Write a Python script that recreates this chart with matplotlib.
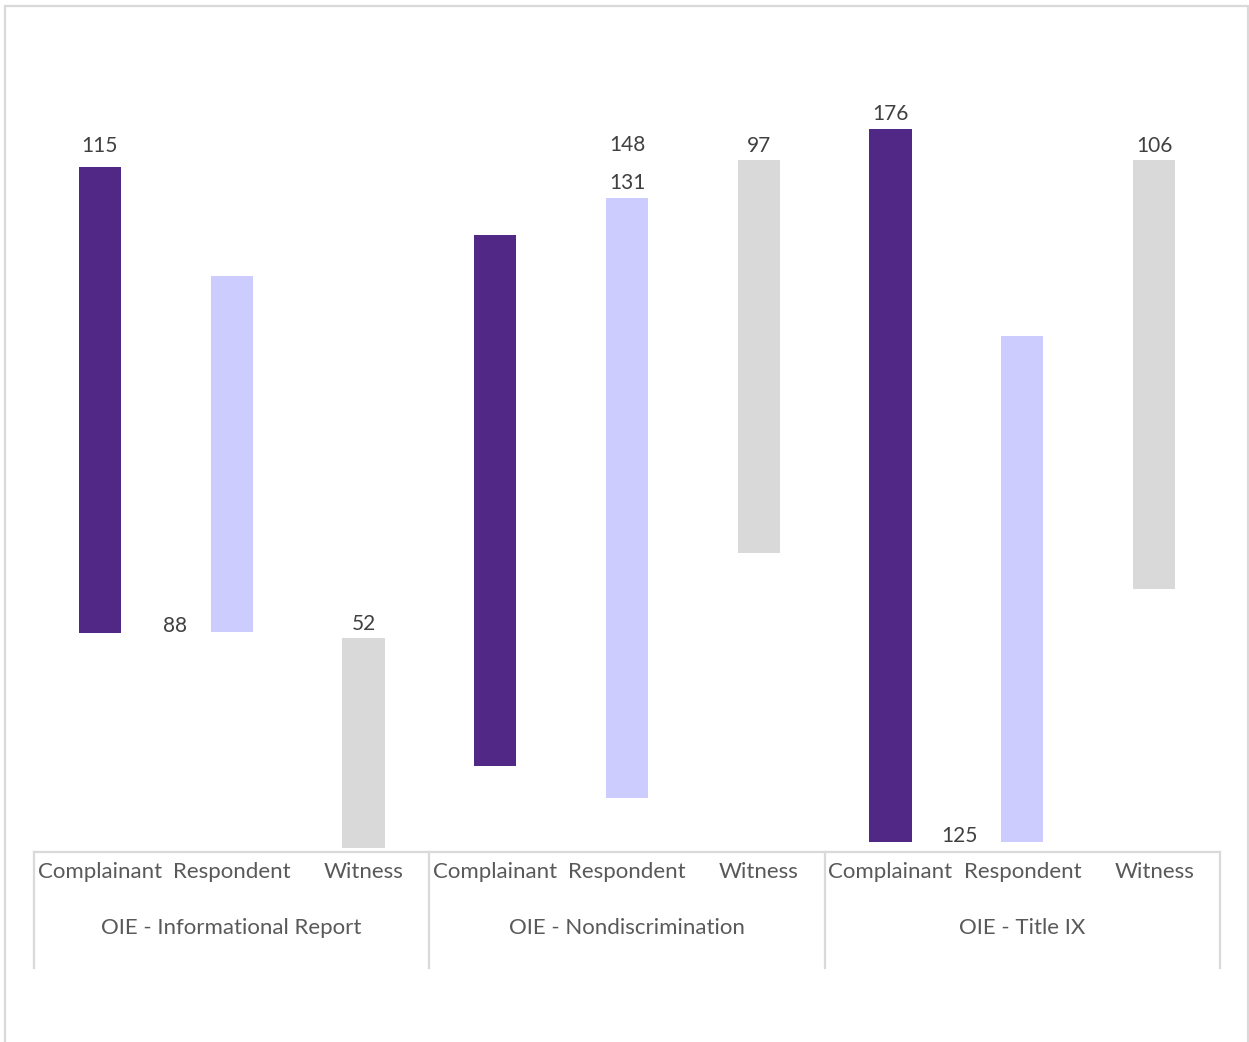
import matplotlib
matplotlib.use("Agg")
import matplotlib.pyplot as plt
from matplotlib.patches import Rectangle
from matplotlib.lines import Line2D

plt.rcParams['font.family'] = ['Lato', 'DejaVu Sans']

# categories
groups = ["OIE - Informational Report", "OIE - Nondiscrimination", "OIE - Title IX"]
roles = ["Complainant", "Respondent", "Witness"]

# floating bar ends, one per (group, role) slot
bar_low = [53.8, 54.0, 0.0, 20.5, 12.5, 73.8, 1.5, 1.5, 64.8]
bar_high = [170.3, 143.0, 52.5, 153.3, 162.5, 172.0, 179.8, 128.0, 172.0]

# data labels: value, slot it sits on, which end of the bar
label_values = [115, 88, 52, 148, 131, 97, 176, 125, 106]
label_slots = [0, 1, 2, 4, 4, 5, 6, 7, 8]
label_ends = ["top", "bottom", "top", "top", "top", "top", "top", "bottom", "top"]

# label offsets in pixels from the bar end
label_dx = [0, -57, 0, 0, 0, 0, 0, -63, 0]
label_dy = [21, 5.5, 14, 53, 14.5, 14, 15, 6, 14]

colors = ["#522886", "#ccccff", "#d9d9d9"]
grid_col = "#d9d9d9"

W, H = 1249, 1042
fig = plt.figure(figsize=(W / 100, H / 100), dpi=100)

# chart area border
fig.patches.append(Rectangle((5 / W, -0.02), 1243 / W, 1.02 - 6 / H,
                             transform=fig.transFigure, fill=False,
                             edgecolor=grid_col, linewidth=1.6))

ax = fig.add_axes([34 / W, 190 / H, 1186 / W, 822 / H])
ax.set_xlim(-0.5, 8.5)
ax.set_ylim(-1, 204.5)
ax.axis("off")

n = len(roles)
xs = list(range(len(groups) * n))
bar_cols = [colors[i % n] for i in xs]
heights = [h - l for h, l in zip(bar_high, bar_low)]
ax.bar(xs, heights, bottom=bar_low, width=0.32, color=bar_cols, linewidth=0)

for v, s, end, dx, dy in zip(label_values, label_slots, label_ends, label_dx, label_dy):
    y = bar_high[s] if end == "top" else bar_low[s]
    ax.annotate(str(v), (s, y), xytext=(dx, dy), textcoords="offset pixels",
                ha="center", va="center", fontsize=15, color="#404040")

# category table below the plot
tr = ax.get_xaxis_transform()
ax.add_line(Line2D([-0.5, 8.5], [0, 0], transform=tr, color=grid_col,
                   linewidth=1.6, clip_on=False))
for gx in [-0.5, 2.5, 5.5, 8.5]:
    ax.add_line(Line2D([gx, gx], [0, -116 / 822], transform=tr, color=grid_col,
                       linewidth=1.6, clip_on=False))

for i in xs:
    ax.text(i, -20 / 822, roles[i % n], transform=tr, ha="center", va="center",
            fontsize=16, color="#595959")
for g, name in enumerate(groups):
    ax.text(g * n + 1, -76 / 822, name, transform=tr, ha="center", va="center",
            fontsize=16, color="#595959")

fig.savefig("out.png", dpi=100)
